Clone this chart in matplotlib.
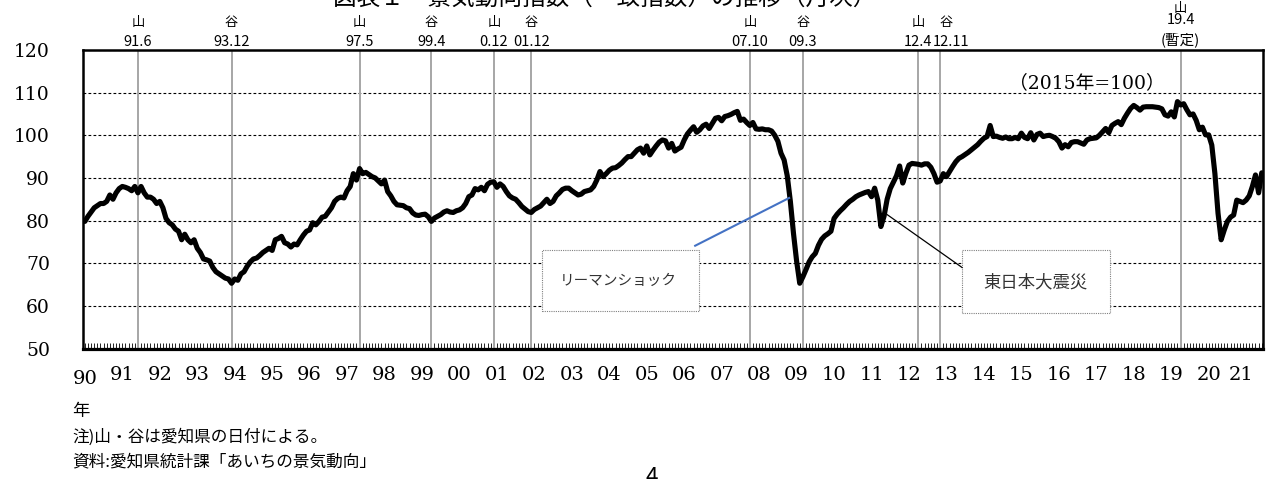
import matplotlib
matplotlib.use('Agg')
import matplotlib.pyplot as plt
from matplotlib.patches import Rectangle
import numpy as np

# ---- data: monthly coincident index (2015=100), Jan 1990 - Jun 2021 ----
v1990 = [79.8, 81.0, 82.0, 83.0, 83.5, 84.0, 84.0, 84.5, 86.0, 85.0, 86.5, 87.5]
v1991 = [88.0, 87.8, 87.5, 87.0, 88.0, 86.5, 88.0, 86.5, 85.5, 85.5, 85.0, 84.0]
v1992 = [84.5, 83.0, 80.5, 79.5, 79.0, 78.0, 77.5, 75.5, 76.8, 75.5, 74.8, 75.5]
v1993 = [73.5, 72.5, 71.0, 70.8, 70.5, 69.0, 68.0, 67.5, 67.0, 66.5, 66.3, 65.3]
v1994 = [66.3, 66.0, 67.5, 68.0, 69.3, 70.3, 71.0, 71.2, 71.8, 72.5, 73.0, 73.5]
v1995 = [73.0, 75.5, 75.8, 76.3, 74.8, 74.5, 73.8, 74.5, 74.3, 75.5, 76.6, 77.5]
v1996 = [77.8, 79.5, 79.0, 79.8, 80.8, 81.0, 82.0, 83.0, 84.5, 85.2, 85.5, 85.3]
v1997 = [87.0, 88.0, 91.0, 89.5, 92.2, 91.0, 91.3, 90.8, 90.3, 90.0, 89.3, 88.6]
v1998 = [89.5, 86.8, 85.8, 84.5, 83.7, 83.6, 83.5, 83.0, 82.8, 81.8, 81.3, 81.2]
v1999 = [81.4, 81.5, 80.9, 79.8, 80.6, 81.0, 81.4, 82.0, 82.3, 82.0, 81.9, 82.3]
v2000 = [82.5, 83.0, 84.0, 85.6, 86.0, 87.5, 87.2, 87.8, 87.0, 88.5, 89.0, 89.1]
v2001 = [87.8, 88.6, 88.0, 86.8, 85.8, 85.3, 85.0, 84.2, 83.3, 82.7, 82.1, 81.9]
v2002 = [82.6, 83.0, 83.4, 84.2, 85.0, 84.0, 84.5, 85.8, 86.5, 87.3, 87.6, 87.6]
v2003 = [87.0, 86.5, 86.0, 86.2, 86.8, 87.0, 87.2, 88.0, 89.5, 91.5, 90.3, 91.0]
v2004 = [91.8, 92.3, 92.4, 92.9, 93.5, 94.3, 95.0, 95.0, 95.8, 96.6, 97.0, 95.8]
v2005 = [97.5, 95.4, 96.5, 97.5, 98.4, 98.9, 98.7, 97.0, 98.1, 96.3, 96.8, 97.2]
v2006 = [98.9, 100.3, 101.2, 102.0, 100.7, 101.3, 102.2, 102.6, 101.6, 102.8, 104.0, 104.2]
v2007 = [103.4, 104.4, 104.6, 104.9, 105.3, 105.6, 103.5, 103.8, 103.0, 102.3, 103.0, 101.5]
v2008 = [101.4, 101.5, 101.3, 101.3, 101.0, 100.0, 98.6, 95.8, 94.2, 90.5, 84.5, 77.0]
v2009 = [70.5, 65.3, 66.8, 68.5, 70.3, 71.5, 72.3, 74.2, 75.6, 76.4, 76.9, 77.5]
v2010 = [80.5, 81.5, 82.3, 83.0, 83.8, 84.5, 85.0, 85.6, 86.0, 86.3, 86.6, 86.8]
v2011 = [85.6, 87.6, 84.8, 78.6, 81.0, 85.0, 87.5, 89.0, 90.5, 92.8, 88.8, 91.1]
v2012 = [93.0, 93.4, 93.3, 93.2, 93.0, 93.3, 93.3, 92.5, 91.0, 89.0, 89.3, 91.0]
v2013 = [90.3, 91.5, 92.7, 93.8, 94.6, 95.0, 95.5, 96.0, 96.6, 97.2, 97.8, 98.6]
v2014 = [99.3, 99.7, 102.3, 99.7, 99.8, 99.5, 99.3, 99.6, 99.2, 99.2, 99.5, 99.2]
v2015 = [100.5, 99.5, 99.2, 100.6, 98.9, 100.2, 100.5, 99.7, 99.9, 100.0, 99.7, 99.3]
v2016 = [98.5, 97.0, 97.8, 97.3, 98.3, 98.5, 98.5, 98.2, 97.9, 98.9, 99.2, 99.3]
v2017 = [99.4, 100.0, 100.8, 101.6, 100.6, 102.3, 102.8, 103.2, 102.5, 104.0, 105.2, 106.3]
v2018 = [107.0, 106.5, 105.9, 106.6, 106.7, 106.7, 106.7, 106.6, 106.5, 106.2, 104.8, 104.5]
v2019 = [105.5, 104.3, 107.9, 107.1, 107.4, 106.0, 104.8, 105.0, 103.5, 101.3, 101.9, 100.1]
v2020 = [100.1, 97.7, 91.0, 81.7, 75.5, 77.8, 79.8, 80.8, 81.3, 84.8, 84.5, 84.2]
v2021 = [84.8, 85.8, 88.0, 90.7, 86.5, 91.2]

YEAR_LABELS = ['90', '91', '92', '93', '94', '95', '96', '97', '98', '99', '00',
               '01', '02', '03', '04', '05', '06', '07', '08', '09', '10', '11',
               '12', '13', '14', '15', '16', '17', '18', '19', '20', '21']
Y_TICKS = [50, 60, 70, 80, 90, 100, 110, 120]

TURN_KIND = ['山', '谷', '山', '谷', '山', '谷', '山', '谷', '山', '谷', '山']
TURN_TEXT = ['91.6', '93.12', '97.5', '99.4', '0.12', '01.12',
             '07.10', '09.3', '12.4', '12.11', '19.4']
TURN_YM = [(1991, 6), (1993, 12), (1997, 5), (1999, 4), (2000, 12), (2001, 12),
           (2007, 10), (2009, 3), (2012, 4), (2012, 11), (2019, 4)]

values = np.array(v1990 + v1991 + v1992 + v1993 + v1994 + v1995 + v1996 + v1997 +
                  v1998 + v1999 + v2000 + v2001 + v2002 + v2003 + v2004 + v2005 +
                  v2006 + v2007 + v2008 + v2009 + v2010 + v2011 + v2012 + v2013 +
                  v2014 + v2015 + v2016 + v2017 + v2018 + v2019 + v2020 + v2021)
months = np.arange(len(values))

def midx(y, m):
    return (y - 1990) * 12 + (m - 1)

JP = 'Noto Sans CJK JP'
plt.rcParams['font.family'] = ['DejaVu Serif', JP]

W, H = 1266, 479
fig = plt.figure(figsize=(W / 100, H / 100), dpi=100)
ax = fig.add_axes([83.3 / W, 1 - 348.5 / H, 1180 / W, 298.5 / H])

ax.plot(months, values, color='black', lw=3.7, solid_joinstyle='round',
        solid_capstyle='round', zorder=3)
ax.set_xlim(-0.5, len(values) - 0.5)
ax.set_ylim(Y_TICKS[0], Y_TICKS[-1])
ax.set_yticks(Y_TICKS)
ax.set_yticklabels([str(t) for t in Y_TICKS])
ax.tick_params(axis='y', length=0, pad=24, labelsize=13.5)
ax.yaxis.grid(True, ls=(0, (2.5, 2)), color='black', lw=0.8)
ax.set_axisbelow(True)

ax.set_xticks([])
ax.set_xticks(months, minor=True)
ax.tick_params(axis='x', which='minor', direction='in', length=4, width=0.6,
               color='black')
for s in ax.spines.values():
    s.set_linewidth(1.8)
    s.set_color('black')
ax.spines['bottom'].set_linewidth(2.3)

# turning-point lines and labels
for kind, txt, (yy, mm) in zip(TURN_KIND, TURN_TEXT, TURN_YM):
    xi = midx(yy, mm)
    ax.axvline(xi, color='#a6a6a6', lw=1.4, zorder=1)
    dx = 0
    kdx = 0
    if txt == '12.11':
        dx, kdx = 8, 4
    if txt == '19.4':
        ax.annotate(kind, xy=(xi, 1), xycoords=('data', 'axes fraction'),
                    xytext=(0, 30), textcoords='offset points', ha='center',
                    va='center', fontsize=9.5, family=JP)
        ax.annotate(txt, xy=(xi, 1), xycoords=('data', 'axes fraction'),
                    xytext=(0, 21.5), textcoords='offset points', ha='center',
                    va='center', fontsize=10.5, family=JP)
        ax.annotate('(暫定)', xy=(xi, 1), xycoords=('data', 'axes fraction'),
                    xytext=(0, 7), textcoords='offset points', ha='center',
                    va='center', fontsize=10.5, family=JP)
    else:
        ax.annotate(kind, xy=(xi, 1), xycoords=('data', 'axes fraction'),
                    xytext=(kdx, 20), textcoords='offset points', ha='center',
                    va='center', fontsize=9.5, family=JP)
        ax.annotate(txt, xy=(xi, 1), xycoords=('data', 'axes fraction'),
                    xytext=(dx, 6), textcoords='offset points', ha='center',
                    va='center', fontsize=10.5, family=JP)

# year labels
for i, lab in enumerate(YEAR_LABELS):
    oy = -22 if i == 0 else -19
    ox = -4 if i == len(YEAR_LABELS) - 1 else 0
    ax.annotate(lab, xy=(12 * i, 0), xycoords=('data', 'axes fraction'),
                xytext=(ox, oy), textcoords='offset points', ha='center',
                va='center', fontsize=14)

# base-year note
ax.text(321, 112.3, '（2015年=100）', ha='center', va='center', fontsize=13.5,
        family=['DejaVu Serif', JP], zorder=6)

# annotation boxes
ax.add_patch(Rectangle((146.4, 58.9), 50.4, 14.2, facecolor='white',
                       edgecolor='#808080', lw=0.8, ls=(0, (1, 1)), zorder=4))
ax.text(171, 65.8, 'リーマンショック', ha='center', va='center', fontsize=10.5,
        family=JP, color='#333333', zorder=5)
ax.plot([195.5, 225.6], [74.1, 85.3], color='#4472C4', lw=1.5, zorder=5)

ax.add_patch(Rectangle((281, 58.4), 47.3, 14.6, facecolor='white',
                       edgecolor='#808080', lw=0.8, ls=(0, (1, 1)), zorder=4))
ax.text(304.6, 65.4, '東日本大震災', ha='center', va='center', fontsize=12.5,
        family=JP, color='#333333', zorder=5)
ax.plot([257, 281], [81.4, 69.0], color='black', lw=0.9, zorder=5)

# notes below
fig.text(72 / W, 1 - 411 / H, '年', fontsize=12.5, va='center', family=JP)
fig.text(72 / W, 1 - 437 / H, '注)山・谷は愛知県の日付による。', fontsize=12,
         va='center', family=JP)
fig.text(72 / W, 1 - 462 / H, '資料:愛知県統計課「あいちの景気動向」', fontsize=12,
         va='center', family=JP)

# title and page number: cut off at the image edges, as in the original
fig.text(605 / W, 1 - 5 / H, '図表１　景気動向指数（一致指数）の推移（月次）',
         fontsize=17, ha='center', va='baseline', family=JP)
fig.text(652 / W, 1 - 466 / H, '4', fontsize=16, ha='center', va='top',
         family=JP)

fig.savefig('out.png', dpi=100)
